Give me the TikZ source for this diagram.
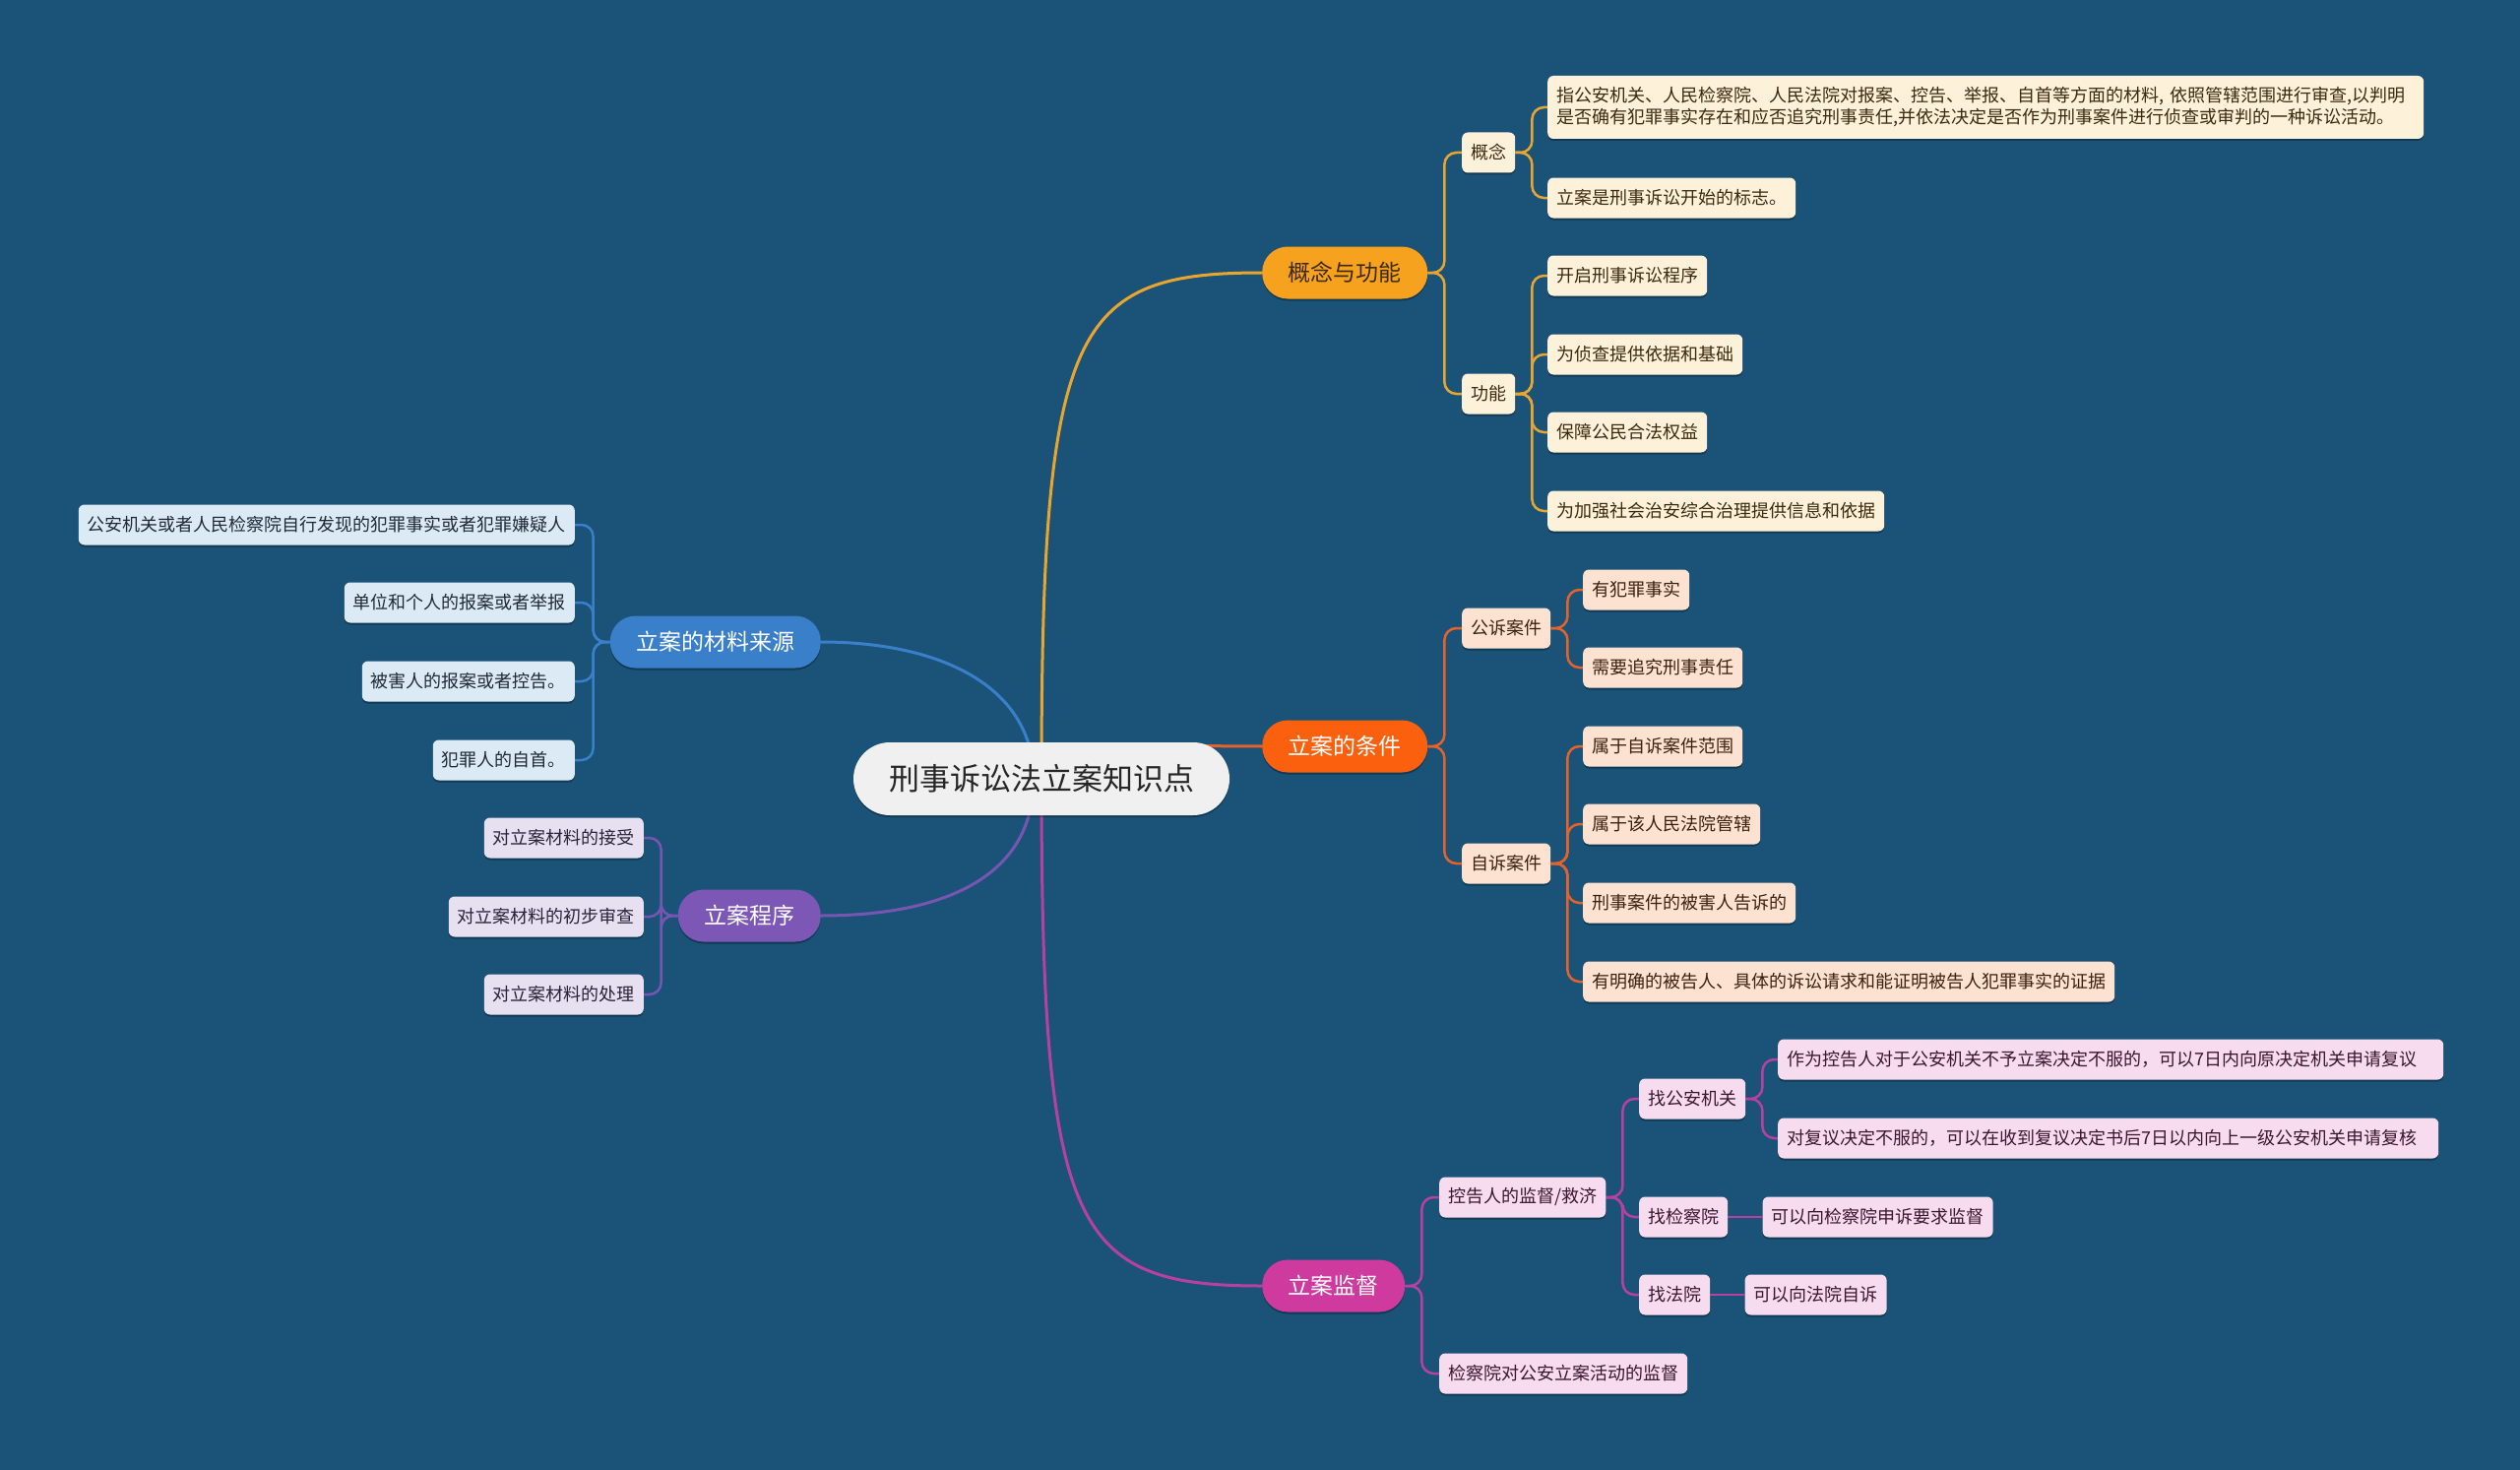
\documentclass[tikz,border=0pt]{standalone}
\usepackage{fontspec}
\setmainfont{Noto Sans CJK SC}
\usetikzlibrary{shadows,positioning,calc}
\definecolor{bgc}{RGB}{27,83,120}
\definecolor{rootc}{RGB}{240,240,240}
\definecolor{ymain}{RGB}{246,162,30}
\definecolor{yline}{RGB}{232,166,48}
\definecolor{yleaf}{RGB}{253,241,218}
\definecolor{ytext}{RGB}{60,42,14}
\definecolor{rmain}{RGB}{250,96,14}
\definecolor{rline}{RGB}{228,98,44}
\definecolor{rleaf}{RGB}{253,226,210}
\definecolor{rtext}{RGB}{60,32,16}
\definecolor{mmain}{RGB}{207,58,159}
\definecolor{mline}{RGB}{184,64,159}
\definecolor{mleaf}{RGB}{247,220,239}
\definecolor{mtext}{RGB}{58,22,48}
\definecolor{bmain}{RGB}{58,127,202}
\definecolor{bline}{RGB}{58,127,200}
\definecolor{bleaf}{RGB}{220,234,246}
\definecolor{btext}{RGB}{30,42,56}
\definecolor{pmain}{RGB}{124,87,181}
\definecolor{pline}{RGB}{118,86,176}
\definecolor{pleaf}{RGB}{230,224,241}
\definecolor{ptext}{RGB}{42,34,56}
\pgfdeclarelayer{bglayer}
\pgfdeclarelayer{edges}
\pgfsetlayers{bglayer,edges,main}
\tikzset{
  shd/.style={drop shadow={shadow xshift=0pt,shadow yshift=-2pt,opacity=0.3,fill=black}},
  rootnode/.style={shd,fill=rootc,text=black!85,rounded corners=37pt,inner xsep=36pt,inner ysep=2pt,minimum height=74pt,font=\fontsize{31}{36}\selectfont},
  mainnode/.style={shd,rounded corners=26pt,inner xsep=26.5pt,inner ysep=2pt,minimum height=53pt,font=\fontsize{23}{27}\selectfont},
  leaf/.style={shd,rounded corners=6pt,inner xsep=9pt,inner ysep=2pt,minimum height=41pt,font=\fontsize{18}{22}\selectfont},
  ly/.style={leaf,fill=yleaf,text=ytext},
  lr/.style={leaf,fill=rleaf,text=rtext},
  lm/.style={leaf,fill=mleaf,text=mtext},
  lb/.style={leaf,fill=bleaf,text=btext},
  lp/.style={leaf,fill=pleaf,text=ptext},
  bigcurve/.style={line width=3pt},
  ey/.style={draw=yline,line width=2.5pt,rounded corners=12pt},
  er/.style={draw=rline,line width=2.5pt,rounded corners=12pt},
  em/.style={draw=mline,line width=2.5pt,rounded corners=12pt},
  eb/.style={draw=bline,line width=2.5pt,rounded corners=12pt},
  ep/.style={draw=pline,line width=2.5pt,rounded corners=12pt},
}
\begin{document}
\begin{tikzpicture}[x=1pt,y=-1pt]
\begin{pgfonlayer}{bglayer}
\fill[bgc] (0,0) rectangle (2560,1493);
\end{pgfonlayer}
\useasboundingbox (0,0) rectangle (2560,1493);

% root
\node[rootnode] (root) at (1058,791) {刑事诉讼法立案知识点};

% main branches
\node[mainnode,fill=ymain,text=ytext,anchor=west] (b1) at (1282,277) {概念与功能};
\node[mainnode,fill=rmain,text=white,anchor=west] (b2) at (1282,758) {立案的条件};
\node[mainnode,fill=mmain,text=white,anchor=west] (b3) at (1282,1306) {立案监督};
\node[mainnode,fill=bmain,text=white,anchor=east] (b4) at (834,652) {立案的材料来源};
\node[mainnode,fill=pmain,text=white,anchor=east] (b5) at (834,930) {立案程序};

% yellow subtree
\node[ly,anchor=west] (gn) at (1485,155) {概念};
\node[ly,anchor=west,align=left,minimum height=64pt,text width=872pt] (gn1) at (1572,109) {指公安机关、人民检察院、人民法院对报案、控告、举报、自首等方面的材料, 依照管辖范围进行审查,以判明\\是否确有犯罪事实存在和应否追究刑事责任,并依法决定是否作为刑事案件进行侦查或审判的一种诉讼活动。};
\node[ly,anchor=west] (gn2) at (1572,201) {立案是刑事诉讼开始的标志。};
\node[ly,anchor=west] (gong) at (1485,400) {功能};
\node[ly,anchor=west] (g1) at (1572,280) {开启刑事诉讼程序};
\node[ly,anchor=west] (g2) at (1572,360) {为侦查提供依据和基础};
\node[ly,anchor=west] (g3) at (1572,439) {保障公民合法权益};
\node[ly,anchor=west] (g4) at (1572,519) {为加强社会治安综合治理提供信息和依据};

% red subtree
\node[lr,anchor=west] (gs) at (1485,638) {公诉案件};
\node[lr,anchor=west] (zs) at (1485,877) {自诉案件};
\node[lr,anchor=west] (r1) at (1608,599) {有犯罪事实};
\node[lr,anchor=west] (r2) at (1608,678) {需要追究刑事责任};
\node[lr,anchor=west] (r3) at (1608,758) {属于自诉案件范围};
\node[lr,anchor=west] (r4) at (1608,837) {属于该人民法院管辖};
\node[lr,anchor=west] (r5) at (1608,917) {刑事案件的被害人告诉的};
\node[lr,anchor=west] (r6) at (1608,997) {有明确的被告人、具体的诉讼请求和能证明被告人犯罪事实的证据};

% magenta subtree
\node[lm,anchor=west] (kg) at (1462,1216) {控告人的监督/救济};
\node[lm,anchor=west] (jc) at (1462,1395) {检察院对公安立案活动的监督};
\node[lm,anchor=west] (ga) at (1665,1116) {找公安机关};
\node[lm,anchor=west] (jcy) at (1665,1236) {找检察院};
\node[lm,anchor=west] (fy) at (1665,1315) {找法院};
\node[lm,anchor=west,text width=658pt,align=left] (m1) at (1806,1076) {作为控告人对于公安机关不予立案决定不服的，可以7日内向原决定机关申请复议};
\node[lm,anchor=west,text width=653pt,align=left] (m2) at (1806,1156) {对复议决定不服的，可以在收到复议决定书后7日以内向上一级公安机关申请复核};
\node[lm,right=35pt of jcy] (m3) {可以向检察院申诉要求监督};
\node[lm,right=35pt of fy] (m4) {可以向法院自诉};

% blue subtree
\node[lb,anchor=east] (s1) at (584,533) {公安机关或者人民检察院自行发现的犯罪事实或者犯罪嫌疑人};
\node[lb,anchor=east] (s2) at (584,612) {单位和个人的报案或者举报};
\node[lb,anchor=east] (s3) at (584,692) {被害人的报案或者控告。};
\node[lb,anchor=east] (s4) at (584,772) {犯罪人的自首。};

% purple subtree
\node[lp,anchor=east] (p1) at (654,851) {对立案材料的接受};
\node[lp,anchor=east] (p2) at (654,931) {对立案材料的初步审查};
\node[lp,anchor=east] (p3) at (654,1010) {对立案材料的处理};

\begin{pgfonlayer}{edges}
% main curves
\draw[bigcurve,yline] (root.center) .. controls (1058,330) and (1090,277) .. (b1.west);
\draw[bigcurve,rline] (root.center) .. controls (1150,757) .. (b2.west);
\draw[bigcurve,mline] (root.center) .. controls (1058,1252) and (1090,1306) .. (b3.west);
\draw[bigcurve,bline] ($(root.center)+(-8,0)$) .. controls (1050,700) and (960,652) .. (b4.east);
\draw[bigcurve,pline] ($(root.center)+(-8,0)$) .. controls (1050,890) and (960,930) .. (b5.east);
% yellow
\foreach \c in {gn,gong} \draw[ey] (b1.east) -- ++(17,0) |- (\c.west);
\foreach \c in {gn1,gn2} \draw[ey] (gn.east) -- ++(17,0) |- (\c.west);
\foreach \c in {g1,g2,g3,g4} \draw[ey] (gong.east) -- ++(17,0) |- (\c.west);
% red
\foreach \c in {gs,zs} \draw[er] (b2.east) -- ++(17,0) |- (\c.west);
\foreach \c in {r1,r2} \draw[er] (gs.east) -- ++(17,0) |- (\c.west);
\foreach \c in {r3,r4,r5,r6} \draw[er] (zs.east) -- ++(17,0) |- (\c.west);
% magenta
\foreach \c in {kg,jc} \draw[em] (b3.east) -- ++(17,0) |- (\c.west);
\foreach \c in {ga,jcy,fy} \draw[em] (kg.east) -- ++(17,0) |- (\c.west);
\foreach \c in {m1,m2} \draw[em] (ga.east) -- ++(17,0) |- (\c.west);
\draw[em] (jcy.east) -- (m3.west);
\draw[em] (fy.east) -- (m4.west);
% blue
\foreach \c in {s1,s2,s3,s4} \draw[eb] (b4.west) -- ++(-17,0) |- (\c.east);
% purple
\foreach \c in {p1,p2,p3} \draw[ep] (b5.west) -- ++(-17,0) |- (\c.east);
\end{pgfonlayer}
\end{tikzpicture}
\end{document}
